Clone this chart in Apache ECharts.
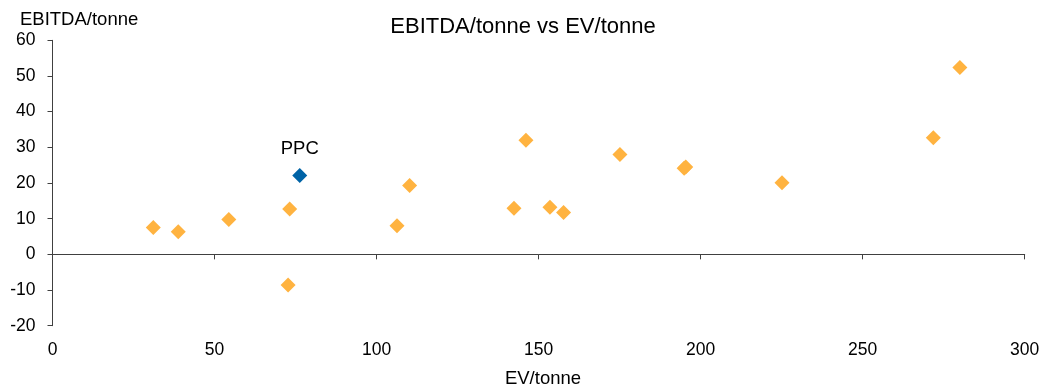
<!DOCTYPE html>
<html>
<head>
<meta charset="utf-8">
<script src="https://cdn.jsdelivr.net/npm/echarts@6/dist/echarts.min.js"></script>
<style>
  html, body { margin: 0; padding: 0; background: #fff; }
  #chart { width: 1046px; height: 387px; }
</style>
</head>
<body>
<div id="chart"></div>
<script>
// peer companies: [EV/tonne, EBITDA/tonne]
var peerPoints = [
  [31.1, 7.5], [38.8, 6.3], [54.4, 9.8], [73.2, 12.7], [72.7, -8.6],
  [106.3, 8.0], [110.2, 19.3], [142.4, 12.9], [146.1, 32.0], [153.5, 13.2],
  [157.7, 11.7], [175.1, 28.0], [194.9, 24.1], [195.4, 24.5], [225.1, 20.1],
  [271.8, 32.7], [280.0, 52.4]
];
var ppcPoint = [[76.3, 22.1]];
var xTicks = [0, 50, 100, 150, 200, 250, 300];
var yTicks = [-20, -10, 0, 10, 20, 30, 40, 50, 60];

var font = 'Liberation Sans, Arial, sans-serif';
var chart = echarts.init(document.getElementById('chart'));

chart.setOption({
  animation: false,
  title: [
    { text: 'EBITDA/tonne vs EV/tonne', left: 'center', top: 11,
      textStyle: { fontFamily: font, fontSize: 22, fontWeight: 'normal', color: '#000' } },
    { text: 'EBITDA/tonne', left: 15, top: 5,
      textStyle: { fontFamily: font, fontSize: 18.5, fontWeight: 'normal', color: '#000' } },
    { text: 'EV/tonne', left: 538, textAlign: 'center', top: 364,
      textStyle: { fontFamily: font, fontSize: 18.5, fontWeight: 'normal', color: '#000' } }
  ],
  grid: { left: 52.5, right: 21.3, top: 40.3, bottom: 61.3 },
  xAxis: [
    {
      type: 'value', min: xTicks[0], max: xTicks[xTicks.length - 1], interval: 50,
      axisLine: { onZero: true, lineStyle: { color: '#404040', width: 1 } },
      axisTick: { show: true, length: 5, inside: false, lineStyle: { color: '#404040' } },
      axisLabel: { show: false },
      splitLine: { show: false }
    },
    {
      type: 'value', min: xTicks[0], max: xTicks[xTicks.length - 1], interval: 50,
      position: 'bottom',
      axisLine: { show: false, onZero: false },
      axisTick: { show: false },
      axisLabel: { margin: 15, fontFamily: font, fontSize: 17.5, color: '#000' },
      splitLine: { show: false }
    }
  ],
  yAxis: {
    type: 'value', min: yTicks[0], max: yTicks[yTicks.length - 1], interval: 10,
    axisLine: { show: true, onZero: false, lineStyle: { color: '#404040', width: 1 } },
    axisTick: { show: true, length: 5, lineStyle: { color: '#404040' } },
    axisLabel: { margin: 17, fontFamily: font, fontSize: 17.5, color: '#000' },
    splitLine: { show: false }
  },
  series: [
    {
      name: 'Peers', type: 'scatter', symbol: 'diamond', symbolSize: 15,
      itemStyle: { color: '#FFB340', opacity: 1 },
      data: peerPoints
    },
    {
      name: 'PPC', type: 'scatter', symbol: 'diamond', symbolSize: 15,
      itemStyle: { color: '#0063A6', opacity: 1 },
      label: { show: true, position: 'top', distance: 10, formatter: 'PPC',
        fontFamily: font, fontSize: 18.5, color: '#000' },
      data: ppcPoint
    }
  ]
});
</script>
</body>
</html>
